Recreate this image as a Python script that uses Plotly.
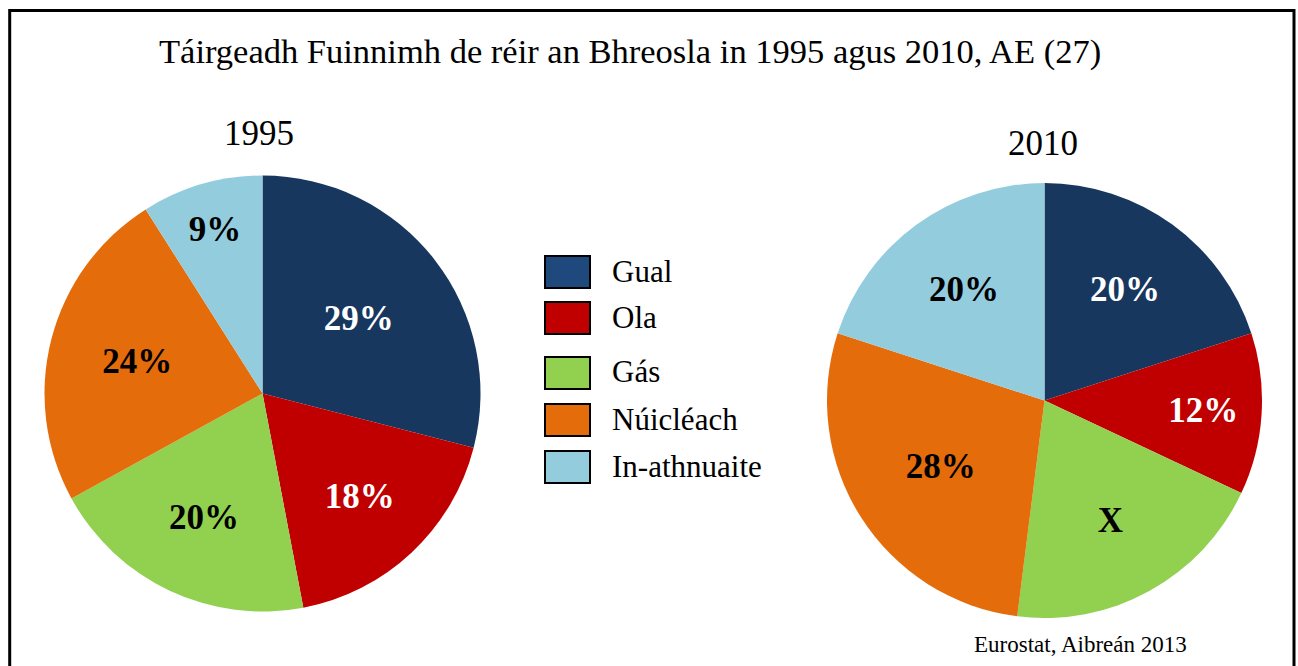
import plotly.graph_objects as go

W, H = 1298, 666

title = "Táirgeadh Fuinnimh de réir an Bhreosla in 1995 agus 2010, AE (27)"
source = "Eurostat, Aibreán 2013"
categories = ["Gual", "Ola", "Gás", "Núicléach", "In-athnuaite"]
years = ["1995", "2010"]
values_1995 = [29, 18, 20, 24, 9]
values_2010 = [20, 12, 20, 28, 20]
labels_1995 = ["29%", "18%", "20%", "24%", "9%"]
labels_2010 = ["20%", "12%", "X", "28%", "20%"]

pie_colors = ["#17375E", "#C00000", "#92D050", "#E46C0A", "#93CDDD"]
legend_colors = ["#1F497D", "#C00000", "#92D050", "#E46C0A", "#93CDDD"]
text_colors = ["white", "white", "black", "black", "black"]

SERIF = "Liberation Serif, Times New Roman, serif"


def px_x(x):
    return x / W


def px_y(y):
    return 1 - y / H


fig = go.Figure()

pie_specs = [
    (values_1995, labels_1995, (262.5, 393.5, 218)),
    (values_2010, labels_2010, (1044.5, 400.5, 217.5)),
]
for vals, txt, (cx, cy, r) in pie_specs:
    fig.add_trace(go.Pie(
        labels=categories,
        values=vals,
        text=txt,
        textinfo="text",
        textposition="inside",
        insidetextorientation="horizontal",
        textfont=dict(family=SERIF, size=35, color=text_colors, weight="bold"),
        marker=dict(colors=pie_colors, line=dict(width=0)),
        sort=False,
        direction="clockwise",
        rotation=0,
        hoverinfo="skip",
        showlegend=False,
        domain=dict(x=[px_x(cx - r), px_x(cx + r)], y=[px_y(cy + r), px_y(cy - r)]),
    ))

shapes = []
annotations = []

# frame
shapes.append(dict(type="rect", xref="paper", yref="paper",
                   x0=px_x(9.7), x1=px_x(1294), y0=px_y(700), y1=px_y(10.5),
                   line=dict(color="black", width=3), fillcolor="rgba(0,0,0,0)", layer="above"))

# title and subtitles
annotations.append(dict(text=title, x=px_x(630), y=px_y(51), xref="paper", yref="paper",
                        showarrow=False, xanchor="center", yanchor="middle",
                        font=dict(family=SERIF, size=34.5, color="black")))
for yr, (xc, yc) in zip(years, [(258.5, 133), (1043, 143)]):
    annotations.append(dict(text=yr, x=px_x(xc), y=px_y(yc), xref="paper", yref="paper",
                            showarrow=False, xanchor="center", yanchor="middle",
                            font=dict(family=SERIF, size=35, color="black")))
annotations.append(dict(text=source, x=px_x(1080), y=px_y(644), xref="paper", yref="paper",
                        showarrow=False, xanchor="center", yanchor="middle",
                        font=dict(family=SERIF, size=23, color="black")))

# custom legend
sw_tops = [256, 302, 357, 404, 451]
sw_h = 32
for cat, col, top in zip(categories, legend_colors, sw_tops):
    shapes.append(dict(type="rect", xref="paper", yref="paper",
                       x0=px_x(545), x1=px_x(590), y0=px_y(top + sw_h), y1=px_y(top),
                       line=dict(color="black", width=2), fillcolor=col))
    annotations.append(dict(text=cat, x=px_x(610), y=px_y(top + sw_h / 2 - 1), xref="paper", yref="paper",
                            showarrow=False, xanchor="left", yanchor="middle",
                            font=dict(family=SERIF, size=31, color="black")))

fig.update_layout(
    width=W, height=H,
    margin=dict(l=0, r=0, t=0, b=0),
    paper_bgcolor="white", plot_bgcolor="white",
    shapes=shapes, annotations=annotations,
    showlegend=False,
)

fig.write_html("out.html", config={"displayModeBar": False},
               post_script="document.body.style.margin='0';document.body.style.overflow='hidden';")
